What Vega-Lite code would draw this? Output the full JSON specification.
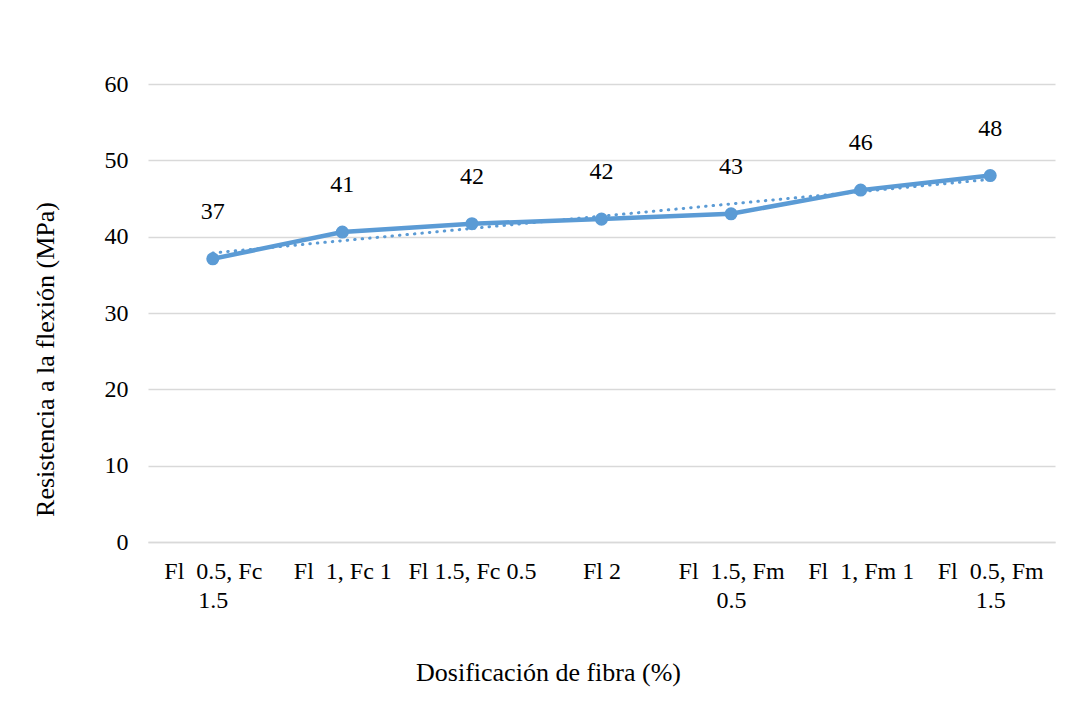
{
  "$schema": "https://vega.github.io/schema/vega-lite/v6.json",
  "autosize": {"type": "none"},
  "width": 907,
  "height": 458,
  "padding": {"left": 148, "top": 84, "right": 19, "bottom": 174},
  "background": "white",
  "datasets": {
    "pts": [
      {"i": 1, "cat": "Fl \u00a00.5, Fc\n1.5", "val": 37.1},
      {"i": 2, "cat": "Fl \u00a01, Fc 1", "val": 40.6},
      {"i": 3, "cat": "Fl 1.5, Fc 0.5", "val": 41.7},
      {"i": 4, "cat": "Fl 2", "val": 42.3},
      {"i": 5, "cat": "Fl \u00a01.5, Fm\n0.5", "val": 43.0},
      {"i": 6, "cat": "Fl \u00a01, Fm 1", "val": 46.1},
      {"i": 7, "cat": "Fl \u00a00.5, Fm\n1.5", "val": 48.0}
    ]
  },
  "data": {"name": "pts"},
  "config": {
    "font": "Liberation Serif",
    "view": {"stroke": null},
    "axis": {
      "labelFont": "Liberation Serif",
      "titleFont": "Liberation Serif",
      "labelFontSize": 24,
      "titleFontSize": 26,
      "labelColor": "#000000",
      "titleColor": "#000000",
      "titleFontWeight": "normal",
      "gridColor": "#d9d9d9",
      "gridWidth": 1.5,
      "ticks": false
    }
  },
  "encoding": {
    "x": {
      "field": "cat",
      "type": "nominal",
      "sort": {"field": "i"},
      "scale": {"type": "point", "padding": 0.5},
      "axis": {
        "title": "Dosificación de fibra (%)",
        "labelAngle": 0,
        "labelPadding": 17,
        "labelLineHeight": 29,
        "labelBaseline": "top",
        "labelExpr": "split(datum.label, '\\n')",
        "labelLimit": 200,
        "domain": true,
        "domainColor": "#d9d9d9",
        "domainWidth": 1.5,
        "grid": false,
        "titlePadding": 47,
        "titleX": 400
      }
    },
    "y": {
      "field": "val",
      "type": "quantitative",
      "scale": {"domain": [0, 60], "nice": false},
      "axis": {
        "title": "Resistencia a la flexión (MPa)",
        "values": [0, 10, 20, 30, 40, 50, 60],
        "labelPadding": 20,
        "domain": false,
        "titlePadding": 46,
        "titleY": 275
      }
    }
  },
  "layer": [
    {
      "transform": [
        {"regression": "val", "on": "i"},
        {"lookup": "i", "from": {"data": {"name": "pts"}, "key": "i", "fields": ["cat"]}}
      ],
      "mark": {"type": "line", "color": "#5B9BD5", "strokeWidth": 3, "strokeDash": [0.5, 7], "strokeCap": "round"}
    },
    {
      "mark": {"type": "line", "color": "#5B9BD5", "strokeWidth": 4.5, "point": {"filled": true, "size": 170, "color": "#5B9BD5", "opacity": 1}}
    },
    {
      "mark": {"type": "text", "dy": -47, "fontSize": 24, "color": "#000000", "font": "Liberation Serif"},
      "encoding": {"text": {"field": "val", "type": "quantitative", "format": ".0f"}}
    }
  ]
}
